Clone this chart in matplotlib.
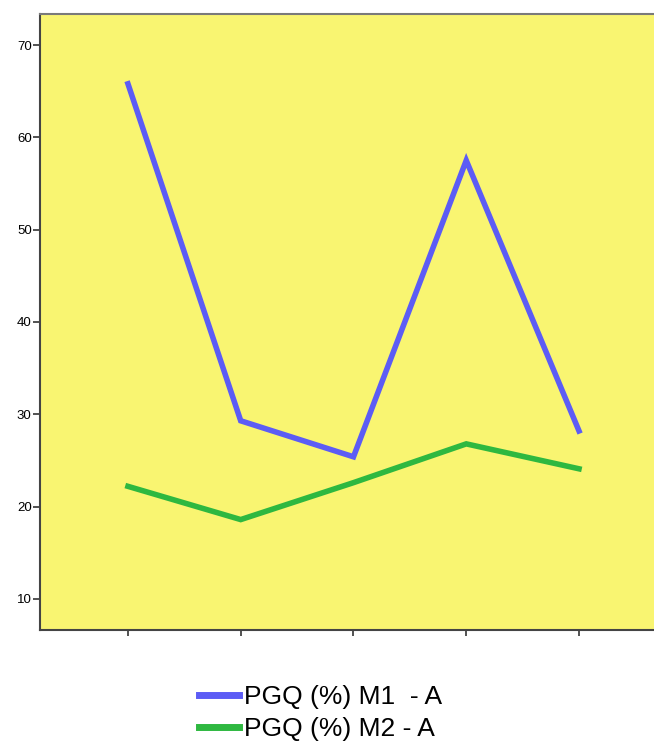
import matplotlib.pyplot as plt
from matplotlib.lines import Line2D

plt.rcParams['font.family'] = ['Liberation Sans', 'DejaVu Sans']

# Data
categories = [1, 2, 3, 4, 5]
m1_values = [65.8, 29.3, 25.4, 57.5, 28.2]
m2_values = [22.2, 18.6, 22.6, 26.8, 24.1]
series_labels = ['PGQ (%) M1  - A', 'PGQ (%) M2 - A']
y_ticks = [10, 20, 30, 40, 50, 60, 70]

blue = '#5c5cf5'
green = '#2eb840'

fig = plt.figure(figsize=(6.54, 7.42), dpi=100)
ax = fig.add_axes([40 / 654, 112 / 742, 1 - 40 / 654, 616 / 742])
ax.set_facecolor('#f9f571')

x = list(range(len(categories)))
ax.plot(x, m1_values, color=blue, lw=4, solid_joinstyle='miter')
ax.plot(x, m2_values, color=green, lw=4, solid_joinstyle='miter')

ax.set_xlim(-0.78, 4.665)
ax.set_ylim(6.64, 73.36)
ax.set_xticks(x)
ax.set_xticklabels([])
ax.set_yticks(y_ticks)
ax.tick_params(axis='y', labelsize=9.5, length=5, width=1.2, color='#333333', pad=1)
ax.tick_params(axis='x', length=4, width=1.2, color='#333333')

ax.spines['left'].set_color('#444444')
ax.spines['bottom'].set_color('#444444')
ax.spines['top'].set_color('#7a7a7a')
ax.spines['right'].set_visible(False)
for s in ['left', 'bottom', 'top']:
    ax.spines[s].set_linewidth(1.5)

handles = [Line2D([], [], color=blue, lw=5), Line2D([], [], color=green, lw=5)]
fig.legend(handles, series_labels, loc='upper left', bbox_to_anchor=(199 / 654, 1 - 685 / 742),
           frameon=False, fontsize=19, handlelength=1.5, handletextpad=0.2,
           labelspacing=0.3, borderaxespad=0, borderpad=0)

fig.savefig('out.png', dpi=100)
